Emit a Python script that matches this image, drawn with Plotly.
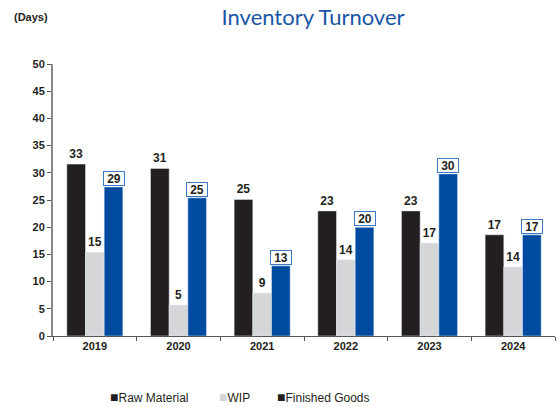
import plotly.graph_objects as go

years = ["2019", "2020", "2021", "2022", "2023", "2024"]
raw_material = [31.6, 30.8, 25.1, 23.0, 23.0, 18.6]
wip = [15.4, 5.7, 7.9, 14.0, 17.1, 12.7]
finished_goods = [27.4, 25.4, 12.9, 20.0, 29.8, 18.6]
raw_labels = ["33", "31", "25", "23", "23", "17"]
wip_labels = ["15", "5", "9", "14", "17", "14"]
fg_labels = ["29", "25", "13", "20", "30", "17"]
y_ticks = [0, 5, 10, 15, 20, 25, 30, 35, 40, 45, 50]
legend_names = ["Raw Material", "WIP", "Finished Goods"]

C_RAW = "#231f20"
C_WIP = "#d5d6d8"
C_FG = "#004b9f"
FONT = "Liberation Sans, Arial, sans-serif"

fig = go.Figure()
fig.add_trace(go.Bar(x=years, y=raw_material, name="Raw Material", marker_color=C_RAW,
                     text=raw_labels, texttemplate="<b>%{text}</b>", textposition="outside",
                     cliponaxis=False, textfont=dict(family=FONT, size=12, color="#231f20"),
                     showlegend=False))
fig.add_trace(go.Bar(x=years, y=wip, name="WIP", marker_color=C_WIP,
                     text=wip_labels, texttemplate="<b>%{text}</b>", textposition="outside",
                     cliponaxis=False, textfont=dict(family=FONT, size=12, color="#231f20"),
                     showlegend=False))
fig.add_trace(go.Bar(x=years, y=finished_goods, name="Finished Goods", marker_color=C_FG,
                     showlegend=False))

bargap = 0.33
bw = (1 - bargap) / 3
for i, (v, lab) in enumerate(zip(finished_goods, fg_labels)):
    fig.add_annotation(x=i + bw, y=v, xref="x", yref="y", text="<b>" + lab + "</b>",
                       showarrow=False, yanchor="bottom", yshift=1,
                       font=dict(family=FONT, size=12, color="#231f20"),
                       bgcolor="white", bordercolor="#3b78c6", borderwidth=1, borderpad=0,
                       width=20, height=13)

# legend (reference shows a black square for Finished Goods)
legend_cols = [C_RAW, C_WIP, C_RAW]
legend_x = [108, 217, 275]
for nm, col, lx in zip(legend_names, legend_cols, legend_x):
    fig.add_annotation(xref="paper", yref="paper", x=(lx - 53) / 502, y=-(397 - 336) / 272,
                       xanchor="left", yanchor="middle", showarrow=False,
                       text=f'<span style="color:{col};font-size:14px">■</span>{nm}',
                       font=dict(family=FONT, size=12, color="#231f20"))

fig.update_layout(
    width=559, height=407,
    margin=dict(l=53, r=4, t=64, b=71, autoexpand=False),
    paper_bgcolor="white", plot_bgcolor="white",
    barmode="group", bargap=bargap, bargroupgap=0,
    title=dict(text="Inventory Turnover", x=0.56, xanchor="center", y=0.958, yanchor="middle",
               font=dict(family="Lato, sans-serif", size=22, color="#1a56a6")),
    showlegend=False,
)
fig.add_annotation(text="<b>(Days)</b>", xref="paper", yref="paper", x=-(53 - 12) / 502,
                   y=1 + (64 - 17) / 272, xanchor="left", yanchor="middle", showarrow=False,
                   font=dict(family=FONT, size=11, color="#231f20"))

fig.update_xaxes(showline=True, linecolor="#555555", linewidth=1, ticks="outside",
                 tickson="boundaries", ticklen=4, tickcolor="#555555", automargin=False,
                 tickfont=dict(family=FONT, size=11, color="#231f20", weight="bold"),
                 showgrid=False)
fig.update_yaxes(range=[0, 50], tickvals=y_ticks, showline=True, linecolor="#888888",
                 linewidth=2, ticks="outside", ticklen=4, tickcolor="#555555", automargin=False,
                 tickfont=dict(family=FONT, size=11, color="#231f20", weight="bold"),
                 showgrid=False, zeroline=False)

fig.write_html("out.html", config={"displayModeBar": False},
               post_script="document.body.style.margin='0px';")
